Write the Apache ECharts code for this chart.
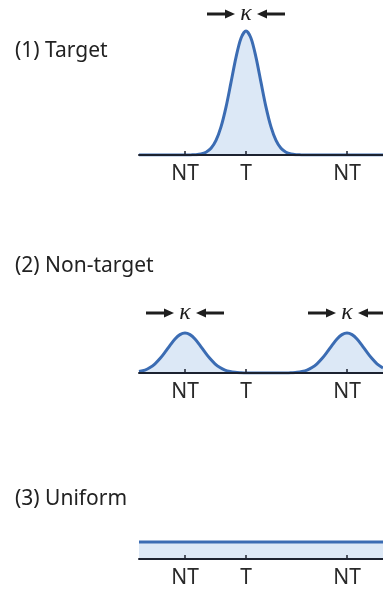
<!DOCTYPE html>
<html>
<head>
<meta charset="utf-8">
<script src="https://cdn.jsdelivr.net/npm/echarts@6/dist/echarts.min.js"></script>
<style>html,body{margin:0;padding:0;background:#fff}#c{width:383px;height:592px}</style>
</head>
<body>
<div id="c"></div>
<script>
// ---- data (x: position relative to target T; y: density height) ----
const tickValues = [-61, 0, 101];
const tickLabels = ['NT', 'T', 'NT'];
const panelTitles = ['(1) Target', '(2) Non-target', '(3) Uniform'];

// Panel 1: peak at target
const targetX = [-107, -60, -55, -50, -45, -40, -35, -30, -25, -20, -15, -10, -5, 0, 5, 10, 15, 20, 25, 30, 35, 40, 45, 50, 55, 60, 137];
const targetY = [0, 0, 0.1, 0.3, 1.0, 2.8, 6.7, 14.6, 28.1, 47.9, 72.6, 97.7, 116.8, 124, 116.8, 97.7, 72.6, 47.9, 28.1, 14.6, 6.7, 2.8, 1.0, 0.3, 0.1, 0, 0];

// Panel 2: peaks at both non-targets
const nonTargetX = [-107, -101, -96, -91, -86, -81, -76, -71, -66, -61, -56, -51, -46, -41, -36, -31, -26, -21, -16, -11, -6, 0, 41, 46, 51, 56, 61, 66, 71, 76, 81, 86, 91, 96, 101, 106, 111, 116, 121, 126, 131, 137];
const nonTargetY = [1.5, 2.9, 5.4, 9.2, 14.4, 20.8, 27.7, 34.0, 38.4, 40, 38.4, 34.0, 27.7, 20.8, 14.4, 9.2, 5.4, 2.9, 1.5, 0.7, 0.3, 0, 0, 0.3, 0.7, 1.5, 2.9, 5.4, 9.2, 14.4, 20.8, 27.7, 34.0, 38.4, 40, 38.4, 34.0, 27.7, 20.8, 14.4, 9.2, 5.0];

// Panel 3: uniform
const uniformX = [-107, 137];
const uniformY = [17, 17];

// kappa markers: [panel index, x value]
const kappaMarks = [[0, 0], [1, -61], [1, 101]];

// ---- chart ----
const pairs = (xs, ys) => xs.map((x, i) => [x, ys[i]]);
const gridTops = [25, 243, 429];
const titleTops = [36, 251, 484];
const kappaY = [14, 313];

const lineColor = '#3b6cb3';
const fillColor = '#dce8f6';
const axisColor = '#1c2230';

const grids = gridTops.map(t => ({ left: 139, right: 0, top: t, height: 130 }));
const xAxes = grids.map((g, i) => ({
  type: 'value', gridIndex: i, min: -107, max: 137, z: 5,
  splitLine: { show: false },
  axisLine: { show: true, onZero: false, lineStyle: { color: axisColor, width: 2 } },
  axisTick: { show: true, inside: true, length: 4, customValues: tickValues, lineStyle: { color: axisColor, width: 1.5 } },
  axisLabel: {
    show: true, customValues: tickValues, margin: 9,
    fontFamily: 'Noto Sans', fontSize: 21, color: '#2a2a2a',
    formatter: v => tickLabels[tickValues.indexOf(v)]
  }
}));
const yAxes = grids.map((g, i) => ({
  type: 'value', gridIndex: i, min: 0, max: 130, show: false
}));
const datasets = [pairs(targetX, targetY), pairs(nonTargetX, nonTargetY), pairs(uniformX, uniformY)];
const series = datasets.map((d, i) => ({
  type: 'line', xAxisIndex: i, yAxisIndex: i, data: d,
  smooth: i === 2 ? false : 0.3, showSymbol: false, symbol: 'none', z: 2,
  lineStyle: { color: lineColor, width: 3 },
  areaStyle: { color: fillColor, opacity: 1 },
  silent: true
}));
const titles = panelTitles.map((t, i) => ({
  text: t, left: 10, top: titleTops[i],
  textStyle: { fontFamily: 'Noto Sans', fontSize: 21, fontWeight: 'normal', color: '#222' }
}));

const chart = echarts.init(document.getElementById('c'), null, { renderer: 'canvas' });
chart.setOption({
  animation: false,
  backgroundColor: '#fff',
  title: titles,
  grid: grids,
  xAxis: xAxes,
  yAxis: yAxes,
  series: series
});

// kappa annotations positioned via the axes
const graphics = [];
kappaMarks.forEach(([p, xv]) => {
  const cx = chart.convertToPixel({ xAxisIndex: p }, xv);
  const cy = kappaY[p];
  const k = '#1e1e1e';
  [-1, 1].forEach(s => {
    graphics.push({ type: 'line', shape: { x1: cx + s * 39, y1: cy, x2: cx + s * 18, y2: cy }, style: { stroke: k, lineWidth: 3 } });
    graphics.push({ type: 'polygon', shape: { points: [[cx + s * 21, cy - 4.5], [cx + s * 11, cy], [cx + s * 21, cy + 4.5]] }, style: { fill: k } });
  });
  graphics.push({ type: 'text', x: cx, y: cy, style: { text: 'κ', font: 'italic 24px "Liberation Serif"', fill: k, align: 'center', verticalAlign: 'middle' } });
});
chart.setOption({ graphic: graphics });
</script>
</body>
</html>
